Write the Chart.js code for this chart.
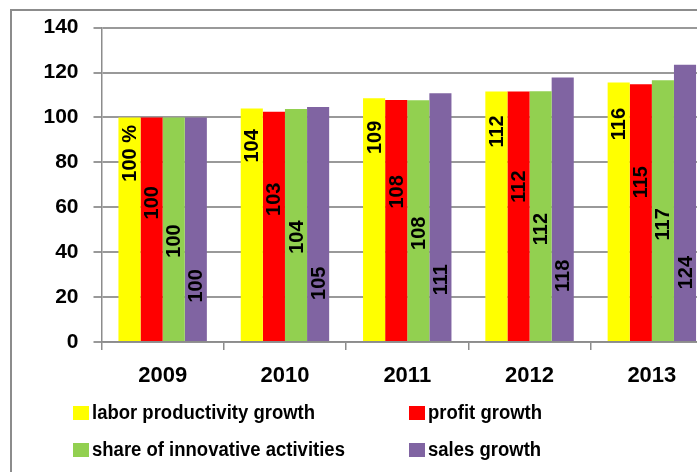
<!DOCTYPE html>
<html>
<head>
<meta charset="utf-8">
<script src="https://cdn.jsdelivr.net/npm/chart.js@4.4.1/dist/chart.umd.min.js"></script>
<style>
    html, body { margin: 0; padding: 0; background: #fff; width: 697px; height: 472px; overflow: hidden; }
    #frame { position: absolute; left: 10px; top: 9px; width: 760px; height: 520px; border: 2px solid #8c8c8c; }
    #chartBox { position: absolute; left: 0; top: 0; }
    #legend {
        position: absolute; left: 73px; top: 394px;
        display: grid; grid-template-columns: 336px 280px; grid-auto-rows: 37px;
        font: bold 20px "Liberation Sans", Arial, sans-serif;
        color: #000;
    }
    .item { display: flex; align-items: center; white-space: nowrap; }
    .swatch { width: 16px; height: 14px; margin-right: 3px; flex: none; }
    .text { display: inline-block; transform: scaleX(0.925); transform-origin: left center; }
</style>
</head>
<body>
<div id="frame"></div>
<div id="chartBox"><canvas id="growthChart" width="713" height="400"></canvas></div>
<div id="legend"></div>
<script>
const categories = ["2009", "2010", "2011", "2012", "2013"];
const laborProductivity = [100, 104, 108.5, 111.6, 115.5];
const profitGrowth = [100, 102.5, 107.8, 111.6, 114.8];
const innovationShare = [100, 103.8, 107.6, 111.7, 116.5];
const salesGrowth = [100, 104.6, 110.8, 117.8, 123.5];
const yTicks = [0, 20, 40, 60, 80, 100, 120, 140];

const SANS = '"Liberation Sans", Arial, sans-serif';

// rotated value labels, placed at a fraction of each bar's height
const barLabels = {
    id: "barLabels",
    afterDatasetsDraw(chart) {
        const ctx = chart.ctx;
        const yScale = chart.scales.y;
        chart.data.datasets.forEach((ds, i) => {
            chart.getDatasetMeta(i).data.forEach((bar, j) => {
                const v = ds.data[j];
                let text = String(Math.round(v));
                if (i === 0 && j === 0) text += " %";
                ctx.save();
                ctx.translate(bar.x, yScale.getPixelForValue(v * ds.labelAt));
                ctx.rotate(-Math.PI / 2);
                ctx.font = "bold 20px " + SANS;
                ctx.fillStyle = "#000";
                ctx.textAlign = "center";
                ctx.textBaseline = "middle";
                ctx.fillText(text, 0, 1);
                ctx.restore();
            });
        });
    }
};

const chart = new Chart(document.getElementById("growthChart"), {
    type: "bar",
    data: {
        labels: categories,
        datasets: [
            {label: "labor productivity growth", data: laborProductivity, backgroundColor: "#ffff00", labelAt: 0.84},
            {label: "profit growth", data: profitGrowth, backgroundColor: "#ff0000", labelAt: 0.62},
            {label: "share of innovative activities", data: innovationShare, backgroundColor: "#92d050", labelAt: 0.45},
            {label: "sales growth", data: salesGrowth, backgroundColor: "#8064a2", labelAt: 0.25}
        ]
    },
    options: {
        responsive: false,
        devicePixelRatio: 1,
        animation: false,
        layout: {padding: {top: 24, right: 0, left: 0, bottom: 0}},
        datasets: {bar: {categoryPercentage: 0.723, barPercentage: 1.0}},
        plugins: {legend: {display: false}, tooltip: {enabled: false}},
        scales: {
            x: {
                grid: {offset: true, drawOnChartArea: false, color: "#8c8c8c", lineWidth: 1.5, tickLength: 8},
                border: {color: "#8c8c8c", width: 1.5},
                ticks: {color: "#000", font: {family: SANS, size: 22, weight: "bold"}, padding: 13},
                afterFit: s => { s.height = 58; }
            },
            y: {
                min: 0,
                max: 140,
                afterBuildTicks: s => { s.ticks = yTicks.map(v => ({value: v})); },
                grid: {color: "#999999", lineWidth: 2, tickLength: 8},
                border: {color: "#8c8c8c", width: 1.5},
                ticks: {color: "#000", font: {family: SANS, size: 21, weight: "bold"}, padding: 15},
                afterFit: s => { s.width = 101.5; }
            }
        }
    },
    plugins: [barLabels]
});

// two-column legend, built from the chart's datasets
const legend = document.getElementById("legend");
chart.data.datasets.forEach(ds => {
    const item = document.createElement("div");
    item.className = "item";
    const sw = document.createElement("span");
    sw.className = "swatch";
    sw.style.background = ds.backgroundColor;
    const txt = document.createElement("span");
    txt.className = "text";
    txt.textContent = ds.label;
    item.appendChild(sw);
    item.appendChild(txt);
    legend.appendChild(item);
});
</script>
</body>
</html>
